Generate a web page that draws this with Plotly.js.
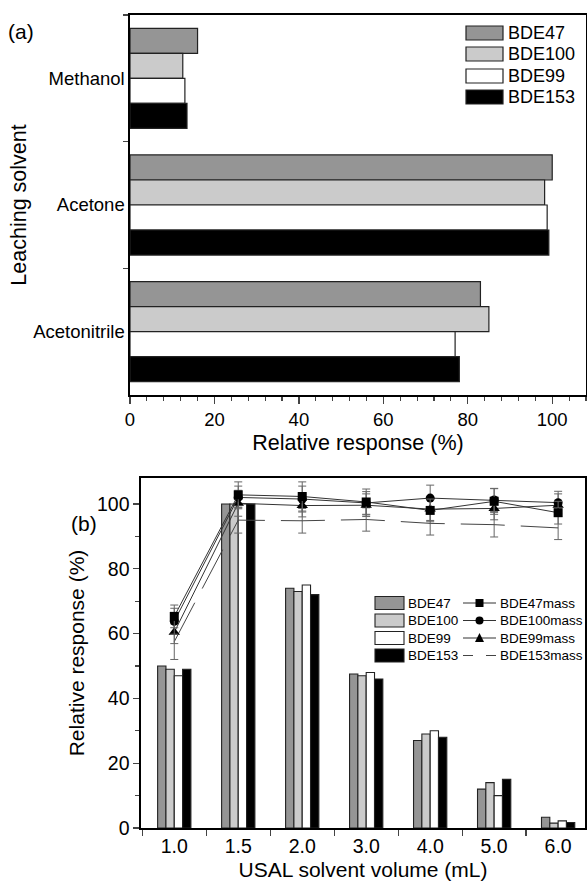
<!DOCTYPE html>
<html><head><meta charset="utf-8">
<script src="https://cdn.plot.ly/plotly-3.0.1.min.js"></script>
<style>html,body{margin:0;padding:0;background:#fff;overflow:hidden}#a{width:587px;height:455px}#b{width:587px;height:428px}</style>
</head><body><div id="a"></div><div id="b"></div>
<script>
// ---------- data: (a) leaching solvent ----------
const solvents = ['Methanol', 'Acetone', 'Acetonitrile'];
const congeners = ['BDE47', 'BDE100', 'BDE99', 'BDE153'];
const leachBDE47 = [16, 100, 83];
const leachBDE100 = [12.5, 98.2, 85];
const leachBDE99 = [13, 98.8, 77];
const leachBDE153 = [13.5, 99.2, 78];

// ---------- data: (b) USAL solvent volume ----------
const volumes = ['1.0', '1.5', '2.0', '3.0', '4.0', '5.0', '6.0'];
const volBDE47 = [50, 100, 74, 47.5, 27, 12, 3.3];
const volBDE100 = [49, 100, 73, 47, 29, 14, 1.5];
const volBDE99 = [47, 100, 75, 48, 30, 10, 2.2];
const volBDE153 = [49, 100, 72, 46, 28, 15, 1.7];

const massNames = ['BDE47mass', 'BDE100mass', 'BDE99mass', 'BDE153mass'];
const massBDE47 = [65.3, 102.8, 102.3, 100.6, 98, 100.8, 97.3];
const massBDE100 = [63.8, 102, 101.5, 100.3, 101.8, 101.2, 100.4];
const massBDE99 = [60.4, 100.2, 99.5, 99.6, 98.4, 98.6, 99.6];
const massBDE153 = [57.5, 95, 94.8, 95.2, 94, 93.6, 92.6];
const errBDE47 = [3.5, 4, 4.5, 4, 3.5, 4, 3.5];
const errBDE100 = [4, 3.5, 4, 3.5, 4, 3.5, 3.5];
const errBDE99 = [3.5, 4, 3.5, 3.5, 3.5, 3.5, 3.5];
const errBDE153 = [5.5, 4, 3.8, 3.6, 3.6, 3.8, 3.6];

// ---------- styles ----------
const FONT = 'Arial, "Liberation Sans", sans-serif';
const barColors = ['#959595', '#cbcbcb', '#ffffff', '#000000'];
const massSymbols = ['square', 'circle', 'triangle-up', null];

// ================= chart (a) =================
const aL = 130, aR = 586, aT = 15, aB = 395, aH = 455;
const axA = px => (px - aL) / (aR - aL);
const ayA = py => (aB - py) / (aB - aT);

const leachSeries = [leachBDE47, leachBDE100, leachBDE99, leachBDE153];
const tracesA = leachSeries.map((vals, i) => ({
  type: 'bar', orientation: 'h', name: congeners[i],
  y: solvents, x: vals, showlegend: false,
  marker: {color: barColors[i], line: {color: '#222', width: 1.2}}
}));

const shapesA = [], annA = [];
const legRowsA = [33, 54, 76, 97];
congeners.forEach((n, i) => {
  shapesA.push({type: 'rect', xref: 'paper', yref: 'paper',
    x0: axA(466), x1: axA(503), y0: ayA(legRowsA[i] + 7), y1: ayA(legRowsA[i] - 7),
    fillcolor: barColors[i], line: {color: '#222', width: 1.2}});
  annA.push({xref: 'paper', yref: 'paper', x: axA(506), y: ayA(legRowsA[i]),
    xanchor: 'left', yanchor: 'middle', showarrow: false, text: n,
    font: {family: FONT, size: 18, color: '#000'}});
});
annA.push({xref: 'paper', yref: 'paper', x: axA(21), y: ayA(31), xanchor: 'center', yanchor: 'middle',
  showarrow: false, text: '(a)', font: {family: FONT, size: 21, color: '#000'}});

const layoutA = {
  width: 587, height: aH, margin: {l: aL, r: 587 - aR, t: aT, b: aH - aB},
  paper_bgcolor: '#fff', plot_bgcolor: '#fff',
  font: {family: FONT, color: '#000', size: 18},
  barmode: 'group', bargap: 0.21, bargroupgap: 0, showlegend: false,
  xaxis: {range: [0, 108], tick0: 0, dtick: 20, ticks: 'outside', ticklen: 7, tickwidth: 1.3,
    minor: {dtick: 4, ticks: 'outside', ticklen: 4, tickwidth: 1.1, showgrid: false},
    showline: true, linewidth: 1.6, linecolor: '#000', mirror: true,
    showgrid: false, zeroline: false, tickfont: {size: 18.5},
    title: {text: 'Relative response (%)', font: {size: 21.5}, standoff: 10}},
  yaxis: {type: 'category', categoryorder: 'array', categoryarray: solvents, range: [2.5, -0.5],
    tickson: 'boundaries', ticks: 'outside', ticklen: 5, tickwidth: 1.3,
    showline: true, linewidth: 1.6, linecolor: '#000', mirror: true,
    showgrid: false, zeroline: false, tickfont: {size: 18.5},
    title: {text: 'Leaching solvent', font: {size: 21.5}, standoff: 0}},
  shapes: shapesA, annotations: annA
};
Plotly.newPlot('a', tracesA, layoutA, {staticPlot: true, displayModeBar: false});

// ================= chart (b) =================
const bL = 141, bR = 585, bT = 23, bB = 373, bH = 428, bOff = 455;
const axB = px => (px - bL) / (bR - bL);
const ayB = pyPage => (bB - (pyPage - bOff)) / (bB - bT);

const volSeries = [volBDE47, volBDE100, volBDE99, volBDE153];
const tracesB = volSeries.map((vals, i) => ({
  type: 'bar', name: congeners[i], x: volumes, y: vals, showlegend: false,
  marker: {color: barColors[i], line: {color: '#222', width: 1.1}}
}));
const massSeries = [massBDE153, massBDE99, massBDE100, massBDE47];
const massErr = [errBDE153, errBDE99, errBDE100, errBDE47];
const massIdx = [3, 2, 1, 0];
massSeries.forEach((vals, k) => {
  const i = massIdx[k];
  const t = {type: 'scatter', name: massNames[i], x: volumes, y: vals, showlegend: false,
    line: {color: '#333', width: 1},
    error_y: {type: 'data', array: massErr[k], visible: true, color: '#666', thickness: 1, width: 4}};
  if (massSymbols[i]) {
    t.mode = 'lines+markers';
    t.marker = {symbol: massSymbols[i], size: i === 2 ? 10 : 9, color: '#000'};
  } else {
    t.mode = 'lines';
    t.line.dash = '44px,16px';
    t.line.color = '#444';
  }
  tracesB.push(t);
});

const shapesB = [], annB = [];
const legRowsB = [603, 620.5, 638, 655.5];
const LF = 13.5;
congeners.forEach((n, i) => {
  const r = legRowsB[i];
  shapesB.push({type: 'rect', xref: 'paper', yref: 'paper',
    x0: axB(375), x1: axB(404), y0: ayB(r + 6.5), y1: ayB(r - 6.5),
    fillcolor: barColors[i], line: {color: '#222', width: 1.1}});
  annB.push({xref: 'paper', yref: 'paper', x: axB(406), y: ayB(r), xanchor: 'left', yanchor: 'middle',
    showarrow: false, text: n, font: {family: FONT, size: LF, color: '#000'}});
  // line legend
  if (i < 3) {
    shapesB.push({type: 'line', xref: 'paper', yref: 'paper', x0: axB(463), x1: axB(496),
      y0: ayB(r), y1: ayB(r), line: {color: '#333', width: 1}});
  } else {
    shapesB.push({type: 'line', xref: 'paper', yref: 'paper', x0: axB(463), x1: axB(473),
      y0: ayB(r), y1: ayB(r), line: {color: '#444', width: 1}});
    shapesB.push({type: 'line', xref: 'paper', yref: 'paper', x0: axB(486), x1: axB(496),
      y0: ayB(r), y1: ayB(r), line: {color: '#444', width: 1}});
  }
  if (i === 0) {
    shapesB.push({type: 'rect', xref: 'paper', yref: 'paper', x0: axB(475.5), x1: axB(483.5),
      y0: ayB(r + 4), y1: ayB(r - 4), fillcolor: '#000', line: {width: 0}});
  } else if (i === 1) {
    shapesB.push({type: 'circle', xref: 'paper', yref: 'paper', x0: axB(475.5), x1: axB(483.5),
      y0: ayB(r + 4), y1: ayB(r - 4), fillcolor: '#000', line: {width: 0}});
  } else if (i === 2) {
    shapesB.push({type: 'path', xref: 'paper', yref: 'paper',
      path: 'M' + axB(475) + ',' + ayB(r + 4) + ' L' + axB(484) + ',' + ayB(r + 4) +
            ' L' + axB(479.5) + ',' + ayB(r - 5) + ' Z', fillcolor: '#000', line: {width: 0}});
  }
  annB.push({xref: 'paper', yref: 'paper', x: axB(498), y: ayB(r), xanchor: 'left', yanchor: 'middle',
    showarrow: false, text: massNames[i], font: {family: FONT, size: LF, color: '#000'}});
});
annB.push({xref: 'paper', yref: 'paper', x: axB(84), y: ayB(523), xanchor: 'center', yanchor: 'middle',
  showarrow: false, text: '(b)', font: {family: FONT, size: 21, color: '#000'}});

const layoutB = {
  width: 587, height: bH, margin: {l: bL, r: 587 - bR, t: bT, b: bH - bB},
  paper_bgcolor: '#fff', plot_bgcolor: '#fff',
  font: {family: FONT, color: '#000', size: 18},
  barmode: 'group', bargap: 0.48, bargroupgap: 0, showlegend: false,
  xaxis: {type: 'category', categoryorder: 'array', categoryarray: volumes, range: [-0.52, 6.42],
    tickson: 'boundaries', ticks: 'outside', ticklen: 6, tickwidth: 1.3,
    showline: true, linewidth: 1.6, linecolor: '#000', mirror: true,
    showgrid: false, zeroline: false, tickfont: {size: 19.5},
    title: {text: 'USAL solvent volume (mL)', font: {size: 21}, standoff: 6}},
  yaxis: {range: [0, 108], tick0: 0, dtick: 20, ticks: 'outside', ticklen: 6, tickwidth: 1.3,
    minor: {dtick: 10, ticks: 'outside', ticklen: 4, tickwidth: 1.1, showgrid: false},
    showline: true, linewidth: 1.6, linecolor: '#000', mirror: true,
    showgrid: false, zeroline: false, tickfont: {size: 19.5},
    title: {text: 'Relative response (%)', font: {size: 21}, standoff: 6}},
  shapes: shapesB, annotations: annB
};
Plotly.newPlot('b', tracesB, layoutB, {staticPlot: true, displayModeBar: false});
</script>
</body></html>
